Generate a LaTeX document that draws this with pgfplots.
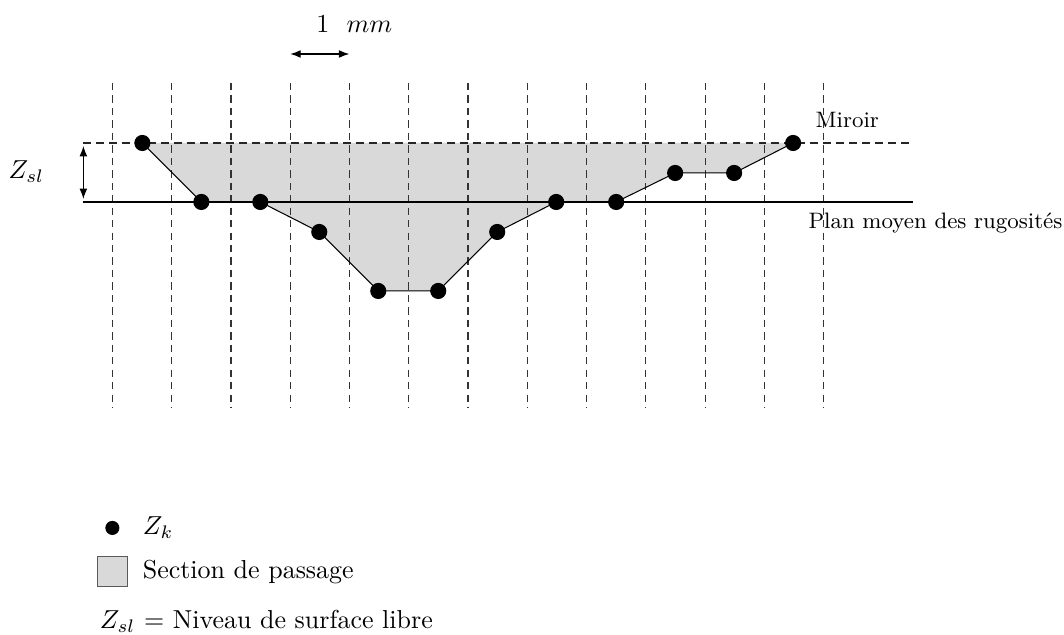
\documentclass[border=0pt]{standalone}
\usepackage{pgfplots}
\pgfplotsset{compat=1.18}
\usetikzlibrary{arrows.meta}
\begin{document}
\begin{tikzpicture}
\begin{axis}[
  scale only axis, width=409.6pt, height=244.5pt,
  xmin=0, xmax=1064, ymin=0, ymax=635, y dir=reverse,
  hide axis, clip=false,
]
% section de passage
\addplot[fill=gray!30, draw=none] coordinates {
 (142,143) (201,202) (260,202) (319,232) (378,291) (438,291) (497,232)
 (556,202) (616,202) (675,173) (734,173) (793,143)} -- cycle;
% vertical dashed lines
\pgfplotsinvokeforeach{112,171.3,230.6,289.9,349.2,408.5,467.8,527.1,586.4,645.7,705,764.3,823.6}{
  \addplot[black!80, line width=0.45pt, dash pattern=on 2.8pt off 2pt] coordinates {(#1,83) (#1,408)};
}
% miroir
\addplot[black!85, line width=0.6pt, dash pattern=on 3pt off 2pt] coordinates {(83,143) (911,143)};
% plan moyen
\addplot[black, line width=0.6pt] coordinates {(83,202) (913,202)};
% profile
\addplot[black, line width=0.4pt, mark=*, mark size=2.9pt] coordinates {
 (142,143) (201,202) (260,202) (319,232) (378,291) (438,291) (497,232)
 (556,202) (616,202) (675,173) (734,173) (793,143)};
% legend glyphs
\addplot[only marks, mark=*, mark size=2.5pt, black] coordinates {(112,528)};
\addplot[fill=gray!30, draw=black!65, line width=0.4pt] coordinates {(97,557) (127,557) (127,587) (97,587)} -- cycle;

\draw[{Latex[length=4pt,width=3pt]}-{Latex[length=4pt,width=3pt]}, line width=0.4pt] (axis cs:290,54) -- (axis cs:349,54);
\draw[{Latex[length=4pt,width=3pt]}-{Latex[length=4pt,width=3pt]}, line width=0.4pt] (axis cs:83,146) -- (axis cs:83,199);
\node at (axis cs:354,24) {$1\ \ mm$};
\node at (axis cs:26,172) {$Z_{sl}$};
\node[anchor=base west, inner sep=0pt, font=\fontsize{8.6}{10}\selectfont] at (axis cs:815,128) {Miroir};
\node[anchor=base west, inner sep=0pt, font=\fontsize{8.6}{10}\selectfont] at (axis cs:808,229) {Plan moyen des rugosités};
\node[anchor=base west, inner sep=0pt] at (axis cs:142,535) {$Z_k$};
\node[anchor=base west, inner sep=0pt] at (axis cs:142,579) {Section de passage};
\node[anchor=base west, inner sep=0pt] at (axis cs:99,629) {$Z_{sl}$ = Niveau de surface libre};
\end{axis}
\path (current axis.south west) rectangle (current axis.north east);
\end{tikzpicture}
\end{document}
